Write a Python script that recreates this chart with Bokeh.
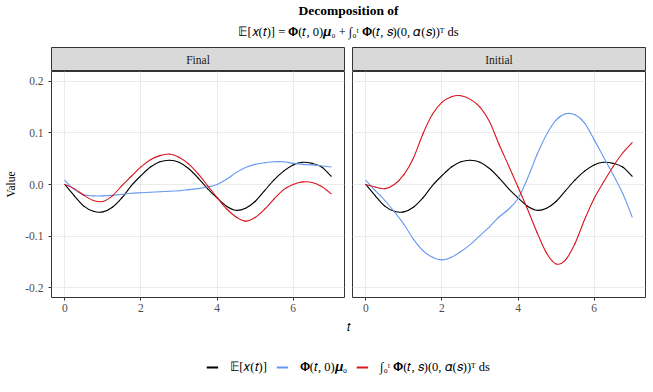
from bokeh.plotting import figure
from bokeh.models import Range1d, FixedTicker, Label, Legend, LegendItem
from bokeh.layouts import column, row
from bokeh.embed import file_html
from bokeh.resources import INLINE

# ---------------- data ----------------
t = [0.0, 0.25, 0.5, 0.75, 1.0, 1.25, 1.5, 1.75, 2.0, 2.25, 2.5, 2.75, 3.0, 3.25,
     3.5, 3.75, 4.0, 4.25, 4.5, 4.75, 5.0, 5.25, 5.5, 5.75, 6.0, 6.25, 6.5, 6.75, 7.0]

expected = [0.000, -0.022, -0.042, -0.052, -0.053, -0.044, -0.026, -0.002, 0.017, 0.034,
            0.044, 0.047, 0.043, 0.031, 0.013, -0.008, -0.026, -0.042, -0.050, -0.046,
            -0.033, -0.012, 0.009, 0.026, 0.038, 0.043, 0.041, 0.034, 0.016]

final_phi = [0.008, -0.010, -0.020, -0.022, -0.022, -0.021, -0.019, -0.017, -0.016, -0.015,
             -0.014, -0.013, -0.012, -0.010, -0.008, -0.005, 0.000, 0.010, 0.023, 0.033,
             0.039, 0.042, 0.044, 0.044, 0.041, 0.039, 0.038, 0.036, 0.034]

final_int = [0.000, -0.008, -0.021, -0.031, -0.033, -0.022, -0.002, 0.016, 0.034, 0.048,
             0.056, 0.059, 0.053, 0.040, 0.021, -0.002, -0.025, -0.047, -0.063, -0.071,
             -0.064, -0.048, -0.028, -0.010, 0.000, 0.005, 0.004, -0.004, -0.018]

initial_phi = [0.008, -0.012, -0.031, -0.053, -0.077, -0.106, -0.128, -0.141, -0.146, -0.141,
               -0.130, -0.116, -0.099, -0.082, -0.063, -0.048, -0.027, 0.012, 0.058, 0.097,
               0.125, 0.137, 0.135, 0.119, 0.087, 0.053, 0.019, -0.017, -0.063]

initial_int = [0.000, -0.005, -0.008, 0.000, 0.019, 0.051, 0.098, 0.136, 0.159, 0.170,
               0.172, 0.165, 0.150, 0.122, 0.078, 0.037, -0.005, -0.048, -0.093, -0.133,
               -0.154, -0.146, -0.114, -0.068, -0.027, 0.005, 0.035, 0.061, 0.081]

panel_names = ["Final", "Initial"]
x_ticks = [0, 2, 4, 6]
x_tick_labels = ["0", "2", "4", "6"]
y_ticks = [-0.2, -0.1, 0.0, 0.1, 0.2]
y_tick_labels = ["-0.2", "-0.1", "0.0", "0.1", "0.2"]

title_line1 = "Decomposition of"
title_line2 = "𝔼[𝑥(𝑡)] = 𝚽(𝑡, 0)𝝁₀ + ∫₀ᵗ 𝚽(𝑡, 𝑠)(0, 𝛼(𝑠))ᵀ ds"
series_labels = ["𝔼[𝑥(𝑡)]", "𝚽(𝑡, 0)𝝁₀", "∫₀ᵗ 𝚽(𝑡, 𝑠)(0, 𝛼(𝑠))ᵀ ds"]
x_label = "𝑡"
y_label = "Value"

# ---------------- style ----------------
SERIF = "Liberation Serif"
BLACK = "#000000"
BLUE = "#6699F0"
RED = "#D8141C"
COLORS = [BLACK, BLUE, RED]
LW = 1.1
FS = "11.5px"

W_LEFT, W_RIGHT = 348, 305
LEFT_PAD, MID_L, MID_R, RIGHT_PAD = 51, 4, 4, 8
PANEL_H = 248
TOTAL_W = W_LEFT + W_RIGHT


def smooth_line(p, xs, ys, color):
    """Draw a smooth curve through the read points (Catmull-Rom as cubic Beziers)."""
    n = len(xs)
    x0, y0, x1, y1, cx0, cy0, cx1, cy1 = [], [], [], [], [], [], [], []
    for i in range(n - 1):
        im, ip2 = max(i - 1, 0), min(i + 2, n - 1)
        x0.append(xs[i]); y0.append(ys[i])
        x1.append(xs[i + 1]); y1.append(ys[i + 1])
        cx0.append(xs[i] + (xs[i + 1] - xs[im]) / 6.0)
        cy0.append(ys[i] + (ys[i + 1] - ys[im]) / 6.0)
        cx1.append(xs[i + 1] - (xs[ip2] - xs[i]) / 6.0)
        cy1.append(ys[i + 1] - (ys[ip2] - ys[i]) / 6.0)
    p.bezier(x0=x0, y0=y0, x1=x1, y1=y1, cx0=cx0, cy0=cy0, cx1=cx1, cy1=cy1,
             line_color=color, line_width=LW, line_cap="round")


def style_panel(p, show_y):
    p.background_fill_color = "white"
    p.border_fill_color = "white"
    p.outline_line_color = "#333333"
    p.outline_line_width = 1
    p.xaxis.ticker = FixedTicker(ticks=x_ticks)
    p.xaxis.major_label_overrides = {k: v for k, v in zip(x_ticks, x_tick_labels)}
    p.yaxis.ticker = FixedTicker(ticks=y_ticks)
    p.yaxis.major_label_overrides = {k: v for k, v in zip(y_ticks, y_tick_labels)}
    for ax in (p.xaxis, p.yaxis):
        ax.axis_line_color = None
        ax.major_tick_line_color = "#333333"
        ax.major_tick_out = 3
        ax.major_tick_in = 0
        ax.minor_tick_line_color = None
        ax.major_label_text_color = "#4D4D4D"
        ax.major_label_text_font = SERIF
        ax.major_label_text_font_size = FS
    p.xaxis.major_label_standoff = 3
    p.yaxis.major_label_standoff = 5
    p.xgrid.grid_line_color = "#EBEBEB"
    p.ygrid.grid_line_color = "#EBEBEB"
    if show_y:
        p.yaxis.axis_label = y_label
        p.yaxis.axis_label_text_font = SERIF
        p.yaxis.axis_label_text_font_size = FS
        p.yaxis.axis_label_text_font_style = "normal"
        p.yaxis.axis_label_text_color = "#000000"
        p.yaxis.axis_label_standoff = 5
    else:
        p.yaxis.visible = False


def make_panel(phi, integ, show_y):
    p = figure(width=W_LEFT if show_y else W_RIGHT, height=PANEL_H,
               x_range=Range1d(-0.35, 7.35), y_range=Range1d(-0.219, 0.219),
               output_backend="svg", toolbar_location=None,
               min_border_left=LEFT_PAD if show_y else MID_R,
               min_border_right=MID_L if show_y else RIGHT_PAD,
               min_border_top=0, min_border_bottom=22)
    smooth_line(p, t, expected, BLACK)
    smooth_line(p, t, phi, BLUE)
    smooth_line(p, t, integ, RED)
    style_panel(p, show_y)
    return p


def make_strip(name, show_y):
    s = figure(width=W_LEFT if show_y else W_RIGHT, height=24,
               x_range=Range1d(0, 1), y_range=Range1d(0, 1),
               x_axis_type=None, y_axis_type=None,
               output_backend="svg", toolbar_location=None,
               min_border_left=LEFT_PAD if show_y else MID_R,
               min_border_right=MID_L if show_y else RIGHT_PAD,
               min_border_top=0, min_border_bottom=0)
    s.background_fill_color = "#D9D9D9"
    s.border_fill_color = "white"
    s.outline_line_color = "#333333"
    s.outline_line_width = 1
    s.add_layout(Label(x=0.5, y=0.5, text=name, text_align="center",
                       text_baseline="middle", text_font=SERIF,
                       text_font_size=FS, text_color="#1A1A1A"))
    return s


panel_L = make_panel(final_phi, final_int, True)
panel_R = make_panel(initial_phi, initial_int, False)
strip_L = make_strip(panel_names[0], True)
strip_R = make_strip(panel_names[1], False)

# title
TH = 47
tf = figure(width=TOTAL_W, height=TH, x_range=Range1d(0, 1), y_range=Range1d(0, TH),
            x_axis_type=None, y_axis_type=None, output_backend="svg",
            toolbar_location=None, min_border_left=LEFT_PAD, min_border_right=RIGHT_PAD,
            min_border_top=0, min_border_bottom=0)
tf.outline_line_color = None
tf.add_layout(Label(x=0.5, y=TH - 10, text=title_line1, text_align="center",
                    text_baseline="middle", text_font=SERIF, text_font_style="bold",
                    text_font_size="13.5px", text_color="#000000"))
tf.add_layout(Label(x=0.5, y=TH - 31, text=title_line2, text_align="center",
                    text_baseline="middle", text_font=SERIF,
                    text_font_size="12.5px", text_color="#000000"))

# bottom: x label + legend
BH = 392 - TH - 24 - PANEL_H
bf = figure(width=TOTAL_W, height=BH, x_range=Range1d(0, 1), y_range=Range1d(0, BH),
            x_axis_type=None, y_axis_type=None, output_backend="svg",
            toolbar_location=None, min_border_left=LEFT_PAD, min_border_right=RIGHT_PAD,
            min_border_top=0, min_border_bottom=0)
bf.outline_line_color = None
bf.add_layout(Label(x=0.5, y=BH - 7, text=x_label, text_align="center",
                    text_baseline="middle", text_font=SERIF,
                    text_font_size="12px", text_color="#000000"))
items = []
for lab, col, ser in zip(series_labels, COLORS, [expected, final_phi, final_int]):
    r = bf.line(t, ser, line_color=col, line_width=2, visible=False)
    items.append(LegendItem(label=lab, renderers=[r]))
legend = Legend(items=items, orientation="horizontal", location="bottom_center",
                padding=0, margin=17, spacing=9, label_standoff=12,
                glyph_width=12, glyph_height=16, label_height=16,
                border_line_color=None, background_fill_alpha=0,
                inactive_fill_alpha=0,
                label_text_font=SERIF, label_text_font_size="12.5px",
                label_text_color="#000000")
bf.add_layout(legend)

layout = column(tf, row(column(strip_L, panel_L), column(strip_R, panel_R)), bf)

open("out.html", "w").write(file_html(layout, INLINE))
